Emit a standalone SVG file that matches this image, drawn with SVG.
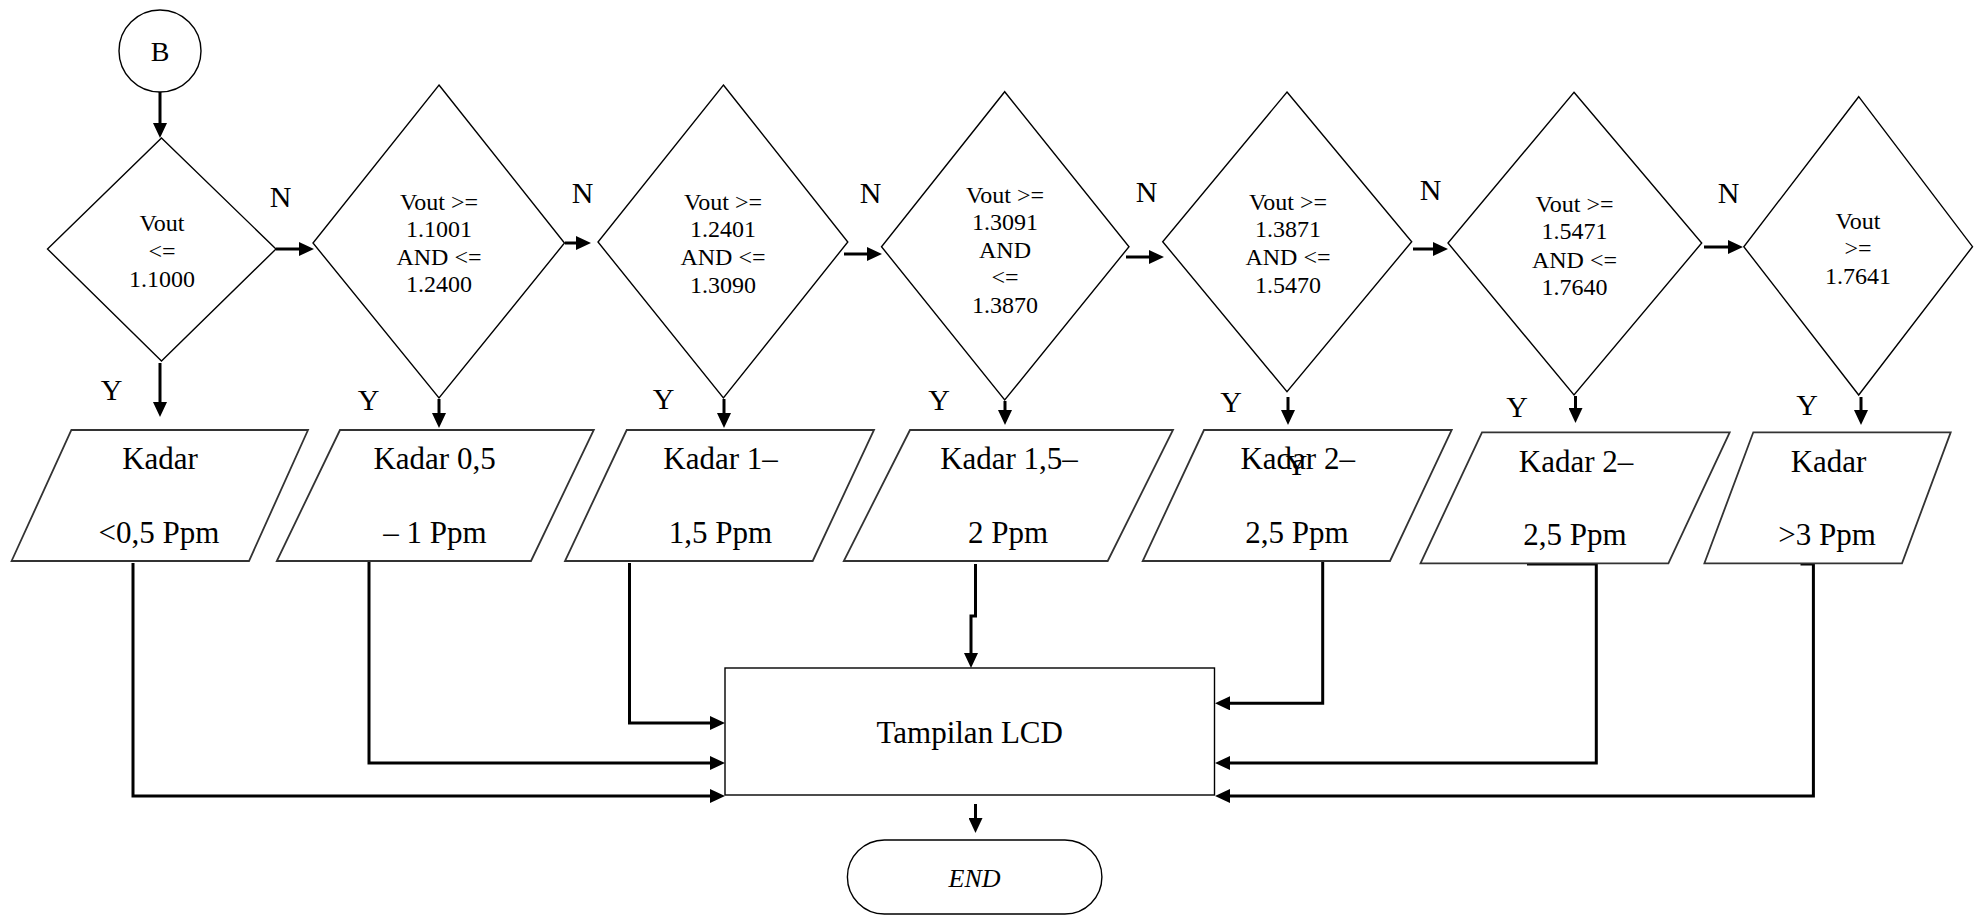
<svg xmlns="http://www.w3.org/2000/svg" width="1978" height="916" viewBox="0 0 1978 916">
<style>
.shape{fill:#fff;stroke:#000;stroke-width:1.4}
.para{fill:#fff;stroke:#333;stroke-width:1.8}
.conn{fill:none;stroke:#000;stroke-width:3}
.t{font-family:"Liberation Serif","Times New Roman",serif;fill:#000;text-anchor:middle}
.d{font-size:24px}
.k{font-size:31px}
.lbl{font-family:"Liberation Serif","Times New Roman",serif;fill:#000;font-size:30px;text-anchor:middle}
</style>
<defs>
<marker id="ah" viewBox="0 0 15 14" refX="3" refY="7" markerWidth="15" markerHeight="14" markerUnits="userSpaceOnUse" orient="auto">
<path d="M0,0 L15,7 L0,14 Z" fill="#000"/>
</marker>
</defs>
<rect width="1978" height="916" fill="#fff"/>

<g id="connectors">
<path class="conn" marker-end="url(#ah)" d="M160,92 V126"/>
<path class="conn" marker-end="url(#ah)" d="M160,363 V405"/>
<path class="conn" marker-end="url(#ah)" d="M439,399 V416"/>
<path class="conn" marker-end="url(#ah)" d="M724,399 V416"/>
<path class="conn" marker-end="url(#ah)" d="M1005,401 V413"/>
<path class="conn" marker-end="url(#ah)" d="M1288,397 V413"/>
<path class="conn" marker-end="url(#ah)" d="M1575.5,396 V411"/>
<path class="conn" marker-end="url(#ah)" d="M1861,397 V413"/>
<path class="conn" marker-end="url(#ah)" d="M276,249 H302"/>
<path class="conn" marker-end="url(#ah)" d="M565,243 H579"/>
<path class="conn" marker-end="url(#ah)" d="M844,254 H870"/>
<path class="conn" marker-end="url(#ah)" d="M1126,257 H1152"/>
<path class="conn" marker-end="url(#ah)" d="M1413,249 H1436"/>
<path class="conn" marker-end="url(#ah)" d="M1704,247 H1731"/>
<path class="conn" marker-end="url(#ah)" d="M133,563 V796 H713"/>
<path class="conn" marker-end="url(#ah)" d="M369,561 V763 H713"/>
<path class="conn" marker-end="url(#ah)" d="M629.5,563 V723 H713"/>
<path class="conn" marker-end="url(#ah)" d="M975.5,564 V616 H971 V656"/>
<path class="conn" marker-end="url(#ah)" d="M1322.7,543 V703.3 H1227"/>
<path class="conn" marker-end="url(#ah)" d="M1527,564 H1596.3 V763 H1227"/>
<path class="conn" marker-end="url(#ah)" d="M1800.5,564 H1813.4 V796 H1227"/>
<path class="conn" marker-end="url(#ah)" d="M975.5,804 V821"/>
</g>

<g id="start">
<circle class="shape" cx="160" cy="51" r="41"/>
<text class="t" x="160" y="61" font-size="28">B</text>
</g>

<g id="d1">
<polygon class="shape" points="161.5,138 276,249 161.5,361 47.5,249"/>
<text class="t d" x="162" y="231">Vout</text>
<text class="t d" x="162" y="258.5">&lt;=</text>
<text class="t d" x="162" y="286.5">1.1000</text>
</g>
<g id="d2">
<polygon class="shape" points="439,85 564.5,243 439,398 313,243"/>
<text class="t d" x="439" y="209.5">Vout &gt;=</text>
<text class="t d" x="439" y="237">1.1001</text>
<text class="t d" x="439" y="264.5">AND &lt;=</text>
<text class="t d" x="439" y="292">1.2400</text>
</g>
<g id="d3">
<polygon class="shape" points="723.4,85 847.8,242 723.4,398 598,242"/>
<text class="t d" x="723" y="210">Vout &gt;=</text>
<text class="t d" x="723" y="237">1.2401</text>
<text class="t d" x="723" y="264.5">AND &lt;=</text>
<text class="t d" x="723" y="292.5">1.3090</text>
</g>
<g id="d4">
<polygon class="shape" points="1004.7,91.7 1129,246.7 1004.7,400 881.5,246.7"/>
<text class="t d" x="1005" y="203">Vout &gt;=</text>
<text class="t d" x="1005" y="230">1.3091</text>
<text class="t d" x="1005" y="257.5">AND</text>
<text class="t d" x="1005" y="285">&lt;=</text>
<text class="t d" x="1005" y="312.5">1.3870</text>
</g>
<g id="d5">
<polygon class="shape" points="1287,92 1411.7,241.7 1287,391.7 1162.7,241.7"/>
<text class="t d" x="1288" y="210">Vout &gt;=</text>
<text class="t d" x="1288" y="237">1.3871</text>
<text class="t d" x="1288" y="265">AND &lt;=</text>
<text class="t d" x="1288" y="292.5">1.5470</text>
</g>
<g id="d6">
<polygon class="shape" points="1574,92.3 1701.7,243 1574,395 1448,243"/>
<text class="t d" x="1574.5" y="212">Vout &gt;=</text>
<text class="t d" x="1574.5" y="239">1.5471</text>
<text class="t d" x="1574.5" y="267.5">AND &lt;=</text>
<text class="t d" x="1574.5" y="295">1.7640</text>
</g>
<g id="d7">
<polygon class="shape" points="1858.7,96.7 1972.5,246.7 1858.7,395 1743.8,246.7"/>
<text class="t d" x="1858" y="228.5">Vout</text>
<text class="t d" x="1858" y="256">&gt;=</text>
<text class="t d" x="1858" y="284">1.7641</text>
</g>

<g id="labels">
<text class="lbl" x="280.5" y="207">N</text>
<text class="lbl" x="582.5" y="203">N</text>
<text class="lbl" x="870.5" y="203">N</text>
<text class="lbl" x="1146.5" y="202">N</text>
<text class="lbl" x="1430.5" y="200">N</text>
<text class="lbl" x="1728.5" y="203">N</text>
<text class="lbl" x="111.5" y="400">Y</text>
<text class="lbl" x="368.5" y="410">Y</text>
<text class="lbl" x="663.5" y="409">Y</text>
<text class="lbl" x="939" y="410">Y</text>
<text class="lbl" x="1231" y="411.5">Y</text>
<text class="lbl" x="1517" y="416.5">Y</text>
<text class="lbl" x="1807" y="415">Y</text>
</g>

<g id="p1">
<polygon class="para" points="71.4,430 308,430 249,561 11.6,561"/>
<text class="t k" x="160" y="469">Kadar</text>
<text class="t k" x="159" y="543">&lt;0,5 Ppm</text>
</g>
<g id="p2">
<polygon class="para" points="340,430 593.8,430 531,561 276.8,561"/>
<text class="t k" x="434.6" y="469">Kadar 0,5</text>
<text class="t k" x="435" y="543">– 1 Ppm</text>
</g>
<g id="p3">
<polygon class="para" points="626.7,430 874,430 812.7,561 565,561"/>
<text class="t k" x="720.5" y="468.5">Kadar 1–</text>
<text class="t k" x="720.5" y="543.3">1,5 Ppm</text>
</g>
<g id="p4">
<polygon class="para" points="910,430 1173,430 1107.7,561 843.8,561"/>
<text class="t k" x="1009" y="469">Kadar 1,5–</text>
<text class="t k" x="1008" y="543">2 Ppm</text>
</g>
<g id="p5">
<polygon class="para" points="1204,430 1451.7,430 1390,561 1142.7,561"/>
<text class="t k" x="1297.7" y="468.5">Kadar 2–</text>
<text class="t k" x="1297" y="543.3">2,5 Ppm</text>
<text class="lbl" x="1296.5" y="475">Y</text>
</g>
<g id="p6">
<polygon class="para" points="1482,432.3 1729.7,432.3 1668.4,563.3 1420.5,563.3"/>
<text class="t k" x="1576" y="471.7">Kadar 2–</text>
<text class="t k" x="1575" y="545">2,5 Ppm</text>
</g>
<g id="p7">
<polygon class="para" points="1753.3,432.3 1950.7,432.3 1902,563.3 1704.4,563.3"/>
<text class="t k" x="1828.6" y="471.7">Kadar</text>
<text class="t k" x="1827" y="545">&gt;3 Ppm</text>
</g>

<g id="lcd">
<rect class="shape" x="725" y="668" width="489.5" height="127"/>
<text class="t k" x="969.7" y="743.3">Tampilan LCD</text>
</g>

<g id="end">
<rect class="shape" x="847.4" y="840" width="254.5" height="74" rx="37" ry="37"/>
<text class="t" x="974.6" y="886.7" font-size="26" font-style="italic">END</text>
</g>
</svg>
